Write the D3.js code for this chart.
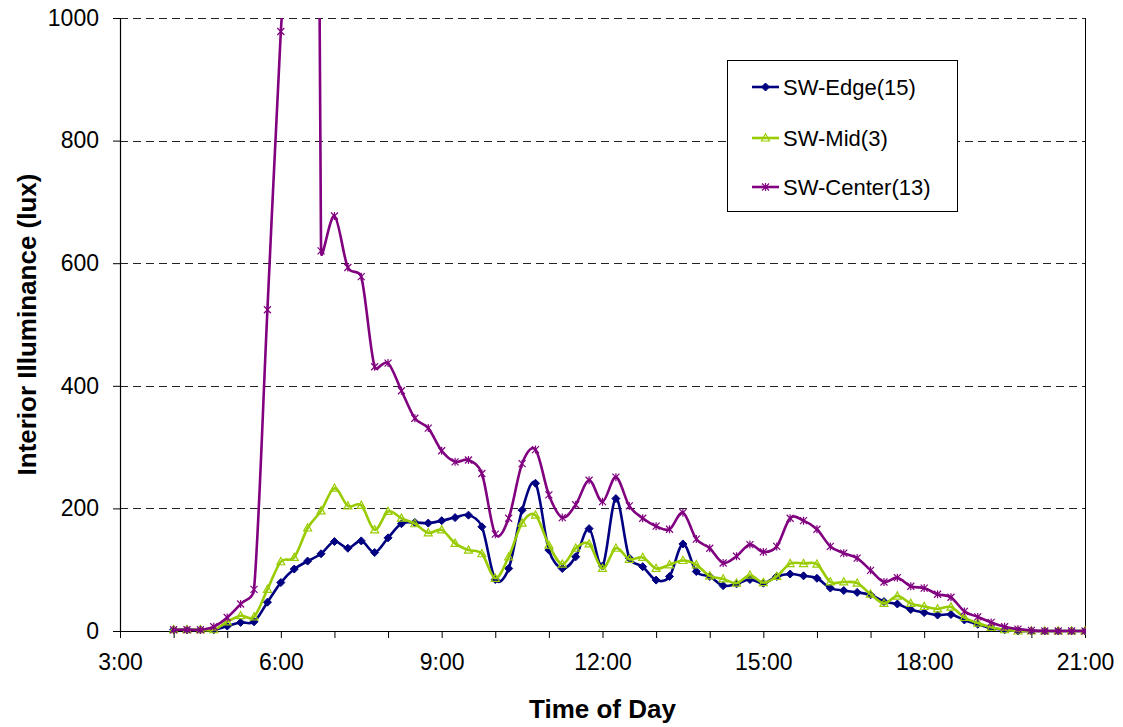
<!DOCTYPE html>
<html>
<head>
<meta charset="utf-8">
<script src="https://cdn.jsdelivr.net/npm/d3@7/dist/d3.min.js"></script>
<style>
  html, body { margin: 0; padding: 0; background: #fff; }
  svg { display: block; font-family: "Liberation Sans", Arial, sans-serif; }
</style>
</head>
<body>
<svg id="chart" width="1123" height="727"></svg>
<script>
// ---- Data ----
const times = [
  "4:00","4:15","4:30","4:45","5:00","5:15","5:30","5:45",
  "6:00","6:15","6:30","6:45","7:00","7:15","7:30","7:45",
  "8:00","8:15","8:30","8:45","9:00","9:15","9:30","9:45",
  "10:00","10:15","10:30","10:45","11:00","11:15","11:30","11:45",
  "12:00","12:15","12:30","12:45","13:00","13:15","13:30","13:45",
  "14:00","14:15","14:30","14:45","15:00","15:15","15:30","15:45",
  "16:00","16:15","16:30","16:45","17:00","17:15","17:30","17:45",
  "18:00","18:15","18:30","18:45","19:00","19:15","19:30","19:45",
  "20:00","20:15","20:30","20:45","21:00"
];
const swEdge = [
  2,2,2,2,8,14,15,47,
  79,101,114,126,146,135,147,128,
  152,175,177,176,180,185,189,170,
  84,102,197,241,132,102,121,167,
  106,216,119,105,83,89,142,97,
  89,74,77,84,78,89,93,90,
  86,70,66,63,59,48,44,35,
  30,26,27,18,11,5,2,0,
  0,0,0,0,0
];
const swMid = [
  2,2,2,2,15,25,23,68,
  113,120,168,196,233,204,205,165,
  195,184,175,160,165,143,132,126,
  86,121,176,189,140,109,135,142,
  102,135,117,120,102,108,115,108,
  90,85,78,91,79,89,110,110,
  109,80,80,78,60,45,57,45,
  40,36,39,22,13,6,2,0,
  0,0,0,0,0
];
const swCenter = [
  2,2,2,7,22,44,68,524,
  978,1300,4000,620,677,593,578,431,
  437,392,347,331,294,276,279,257,
  158,184,273,296,222,185,206,246,
  211,251,204,184,171,166,193,150,
  135,111,122,141,129,138,184,180,
  166,138,127,119,99,80,87,73,
  70,60,55,32,23,14,7,3,
  1,0,0,0,0
];
const seriesNames = ["SW-Edge(15)", "SW-Mid(3)", "SW-Center(13)"];
const seriesColors = ["#000080", "#99CC00", "#800080"];
const xTickLabels = ["3:00","6:00","9:00","12:00","15:00","18:00","21:00"];
const yTicks = [0, 200, 400, 600, 800, 1000];

// ---- Spreadsheet-style smoothed curve (Bezier, control offsets capped at half segment) ----
function SmoothCurve(context) { this._context = context; }
SmoothCurve.prototype = {
  areaStart() { this._line = 0; },
  areaEnd() { this._line = NaN; },
  lineStart() { this._pts = []; },
  point(px, py) { this._pts.push([+px, +py]); },
  lineEnd() {
    const p = this._pts, c = this._context, n = p.length;
    if (!n) return;
    c.moveTo(p[0][0], p[0][1]);
    const dist = (a, b) => Math.hypot(b[0] - a[0], b[1] - a[1]);
    for (let i = 0; i < n - 1; i++) {
      const P0 = p[i - 1] || p[i], P1 = p[i], P2 = p[i + 1], P3 = p[i + 2] || p[i + 1];
      const d12 = dist(P1, P2), d02 = dist(P0, P2), d13 = dist(P1, P3);
      const f = d02 > 0 ? Math.min(1 / 6, d12 / (2 * d02)) : 0;
      const g = d13 > 0 ? Math.min(1 / 6, d12 / (2 * d13)) : 0;
      c.bezierCurveTo(
        P1[0] + (P2[0] - P0[0]) * f, P1[1] + (P2[1] - P0[1]) * f,
        P2[0] - (P3[0] - P1[0]) * g, P2[1] - (P3[1] - P1[1]) * g,
        P2[0], P2[1]);
    }
  }
};
const curveSmooth = ctx => new SmoothCurve(ctx);

// ---- Layout ----
const svg = d3.select("#chart");
const margin = {left: 120, top: 18};
const W = 1085 - 120, H = 631 - 18;
const g = svg.append("g").attr("transform", `translate(${margin.left},${margin.top})`);

const toHours = s => { const [h, m] = s.split(":").map(Number); return h + m / 60; };
const x = d3.scaleLinear().domain([3, 21]).range([0, W]);
const y = d3.scaleLinear().domain([0, 1000]).range([H, 0]);

// gridlines
g.append("g").selectAll("line").data(yTicks.filter(v => v > 0)).join("line")
  .attr("x1", 0).attr("x2", W)
  .attr("y1", d => Math.round(y(d)) + 0.5).attr("y2", d => Math.round(y(d)) + 0.5)
  .attr("stroke", "#222").attr("stroke-width", 1).attr("stroke-dasharray", "8,5");

// right border
g.append("line").attr("x1", W + 0.5).attr("x2", W + 0.5).attr("y1", 0).attr("y2", H)
  .attr("stroke", "#000").attr("stroke-width", 1);

// axes
const fmtHour = d => d + ":00";
const xAxis = d3.axisBottom(x)
  .tickValues(d3.range(3, 22))
  .tickSize(7).tickPadding(16)
  .tickFormat(d => xTickLabels.includes(fmtHour(d)) ? fmtHour(d) : "");
const xg = g.append("g").attr("transform", `translate(0,${H})`).call(xAxis);
const yAxis = d3.axisLeft(y).tickValues(yTicks).tickSize(7).tickPadding(14).tickFormat(d3.format("d"));
const yg = g.append("g").call(yAxis);
[xg, yg].forEach(a => {
  a.select(".domain").attr("stroke", "#000").attr("stroke-width", 1.2);
  a.selectAll(".tick line").attr("stroke", "#000");
  a.selectAll("text").attr("fill", "#000").style("font-size", "23px")
    .style("font-family", "'Liberation Sans', Arial, sans-serif");
});
xg.select(".domain").attr("d", `M0,0.5H${W}`);
yg.select(".domain").attr("d", `M0.5,0V${H}`);

// clip
svg.append("defs").append("clipPath").attr("id", "plotclip")
  .append("rect").attr("x", 0).attr("y", 0).attr("width", W + 1).attr("height", H + 4);

const allSeries = [swEdge, swMid, swCenter];
const line = d3.line()
  .x((d, i) => x(toHours(times[i])))
  .y(d => y(d))
  .curve(curveSmooth);

const plot = g.append("g").attr("clip-path", "url(#plotclip)");

const markerPath = [
  "M0,-4L4,0L0,4L-4,0Z",
  "M0,-4.2L4,3L-4,3Z",
  "M-3.5,-3.5L3.5,3.5M-3.5,3.5L3.5,-3.5M0,-4L0,4"
];

function drawMarker(sel, k) {
  const c = seriesColors[k];
  if (k === 0) sel.attr("d", markerPath[0]).attr("fill", c).attr("stroke", c).attr("stroke-width", 1);
  else if (k === 1) sel.attr("d", markerPath[1]).attr("fill", "none").attr("stroke", c).attr("stroke-width", 1.2);
  else sel.attr("d", markerPath[2]).attr("fill", "none").attr("stroke", c).attr("stroke-width", 1.2);
}

allSeries.forEach((vals, k) => {
  plot.append("path").datum(vals)
    .attr("fill", "none").attr("stroke", seriesColors[k]).attr("stroke-width", 2.6)
    .attr("stroke-linejoin", "round")
    .attr("d", line);
  plot.append("g").selectAll("path").data(vals).join("path")
    .attr("transform", (d, i) => `translate(${x(toHours(times[i]))},${y(d)})`)
    .call(drawMarker, k);
});

// axis titles
svg.append("text").attr("x", 120 + W / 2).attr("y", 718).attr("text-anchor", "middle")
  .style("font-size", "26px").style("font-weight", "bold").text("Time of Day");
svg.append("text").attr("transform", `translate(36,${18 + H / 2}) rotate(-90)`)
  .attr("text-anchor", "middle")
  .style("font-size", "26px").style("font-weight", "bold").text("Interior Illuminance (lux)");

// legend
const lg = svg.append("g").attr("transform", "translate(727,60)");
lg.append("rect").attr("x", 0.5).attr("y", 0.5).attr("width", 230).attr("height", 151)
  .attr("fill", "#fff").attr("stroke", "#000").attr("stroke-width", 1);
const rowsY = [27, 78, 127];
seriesNames.forEach((name, k) => {
  const r = lg.append("g").attr("transform", `translate(0,${rowsY[k]})`);
  r.append("line").attr("x1", 25).attr("x2", 52).attr("y1", 0).attr("y2", 0)
    .attr("stroke", seriesColors[k]).attr("stroke-width", 2.6);
  r.append("path").attr("transform", "translate(38.5,0)").call(drawMarker, k);
  r.append("text").attr("x", 56).attr("y", 0).attr("dy", "0.35em")
    .style("font-size", "22px").text(name);
});
</script>
</body>
</html>
